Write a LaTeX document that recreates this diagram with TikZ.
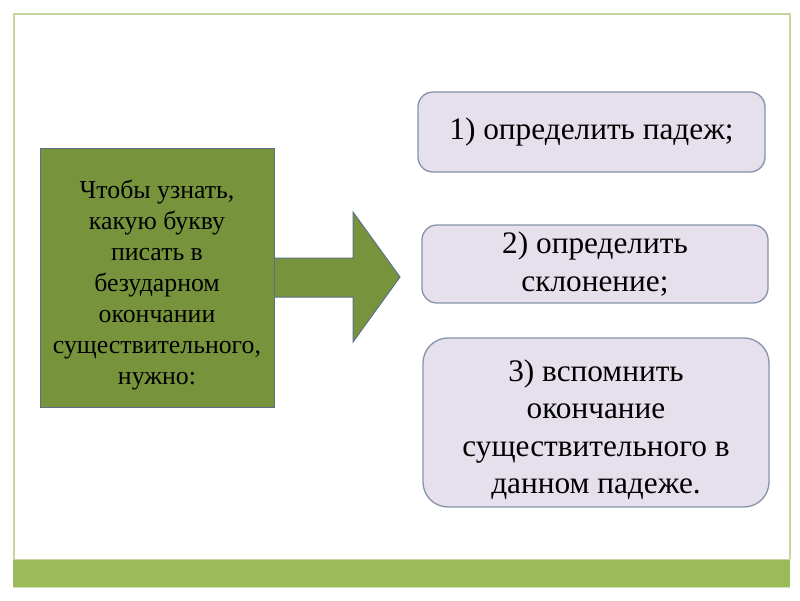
\documentclass[tikz,border=0pt]{standalone}
\usepackage{fontspec}
\setmainfont{Liberation Serif}
\definecolor{olivefill}{HTML}{77933C}
\definecolor{slateline}{HTML}{5B7088}
\definecolor{lavfill}{HTML}{E6E0EC}
\definecolor{lavline}{HTML}{8393AA}
\definecolor{barfill}{HTML}{9BBB59}
\definecolor{frameline}{HTML}{C4D5A0}
\tikzset{
  mainbox/.style={rectangle,fill=olivefill,draw=slateline,line width=1pt,inner sep=0pt},
  maintext/.style={align=center,inner sep=0pt,font=\fontsize{25.8}{31}\selectfont},
  stepbox/.style={rectangle,rounded corners=15pt,fill=lavfill,draw=lavline,
    line width=1.3pt,align=center,inner sep=0pt,font=\fontsize{31.3}{37.5}\selectfont},
  steptext/.style={align=center,inner sep=0pt,font=\fontsize{31.3}{37.5}\selectfont},
  blockarrow/.style={fill=olivefill,draw=slateline,line width=1pt,line join=miter}
}
\begin{document}
\begin{tikzpicture}[x=1pt,y=-1pt]
  \useasboundingbox (0,0) rectangle (800,600);
  % slide frame and bottom bar
  \draw[frameline,line width=1.2pt] (14,559) -- (14,14) -- (790,14) -- (790,559);
  \fill[barfill] (13,559) rectangle (790,587);
  \draw[frameline,line width=0.8pt] (13,559) -- (790,559);
  \draw[frameline!70!white,line width=0.8pt] (13,587) -- (790,587);
  % block arrow
  \draw[blockarrow] (250,258) -- (353,258) -- (353,212) -- (400,277)
    -- (353,342) -- (353,297) -- (250,297) -- cycle;
  \node[mainbox,minimum width=234pt,minimum height=259pt,
    label={[maintext,yshift=-7.5pt]center:{Чтобы узнать,\\какую букву\\писать в\\безударном\\окончании\\существительного,\\нужно:}}]
    (goal) at (157,277.5) {};
  \node[stepbox,minimum width=347pt,minimum height=80pt] (case) at (591.5,132)
    {1) определить падеж;};
  \node[stepbox,minimum width=346pt,minimum height=78pt] (decl) at (595,264)
    {2) определить\\склонение;};
  \node[stepbox,rounded corners=25pt,minimum width=346pt,minimum height=169pt,
    label={[steptext,yshift=-7pt]center:{3) вспомнить\\окончание\\существительного в\\данном падеже.}}]
    (ending) at (596,422.5) {};
\end{tikzpicture}
\end{document}
